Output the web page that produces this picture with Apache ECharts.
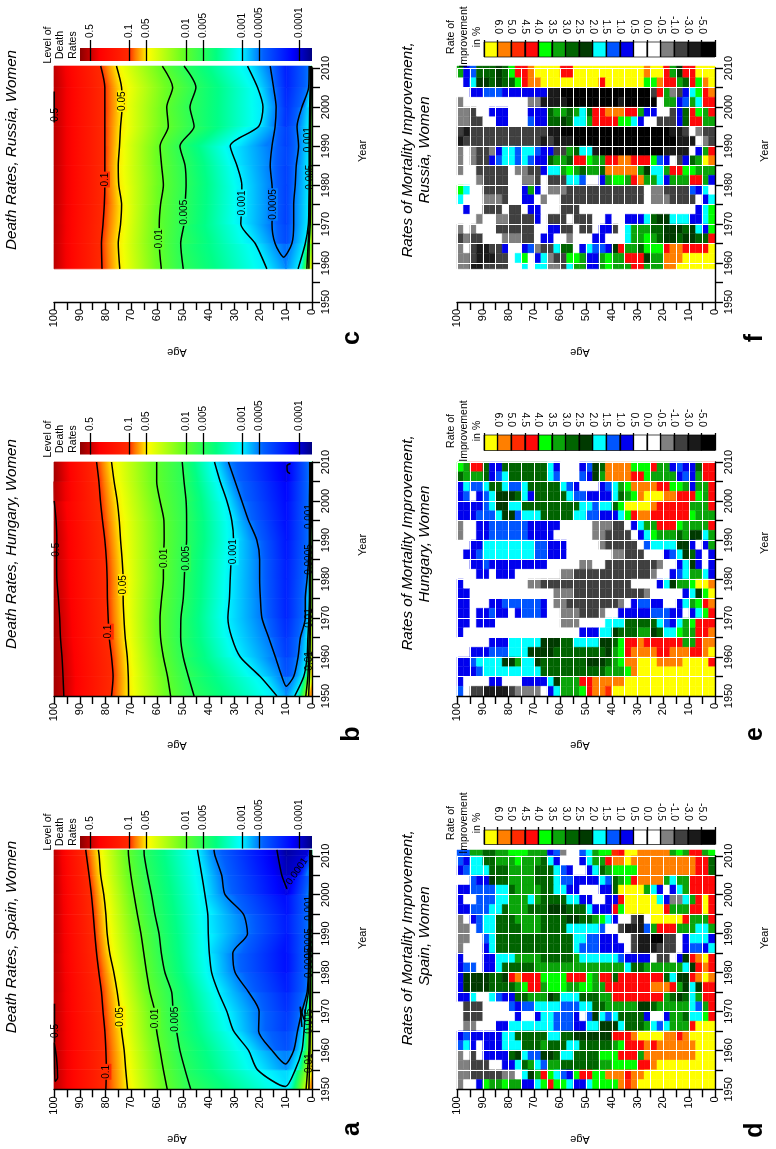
<!DOCTYPE html>
<html><head><meta charset="utf-8">
<script src="https://cdn.jsdelivr.net/npm/echarts@6/dist/echarts.min.js"></script>
<style>html,body{margin:0;padding:0;background:#fff}#c{width:776px;height:1149px}</style></head>
<body><div id="c"></div>
<script>
const FONT = '"Liberation Sans", Arial, sans-serif';
// ---------- death-rate contour data: age at which each contour lies, per row year ----------
const spainYears = [1950,1955,1960,1965,1970,1975,1980,1985,1990,1995,2000,2005,2010,2011.5];
const spainP1    = [79.9,79.7,79.9,80.3,81,81.6,82.6,83.5,84.2,84.8,85.5,86.4,87.4,87.7];
const spainP05   = [71.5,72.2,72.8,73.8,74.5,75.5,76.8,78.4,79.4,79.9,80.7,81.9,82.5,82.8];
const spainP01   = [56.1,57.6,58.9,60.2,60.9,62.8,64.1,65.2,66.3,67.7,69,70.2,71.1,71.2];
const spainP005  = [47,49.2,51.2,52.5,53.8,54.4,57,58.4,59.3,60.9,62.2,63.7,65,65.1];
const spainP001  = [null,21.1,24.6,30.4,33,36.3,38.9,39.8,40.2,40.4,41.5,42.7,44,44.4];
const spainP0005 = [null,null,15.5,20.7,20.5,24.6,29.8,30.7,25,26.6,33.7,35,37.6,38];
const spainP0001 = [null,null,null,null,null,null,null,null,null,null,null,11.7,13.2,13.6];
const spainL0001 = [null,null,null,null,null,null,null,null,null,null,null,7.1,1.9,1.3];
const spainL0005 = [null,null,7.1,5.6,3.9,1.9,1.4,1.2,1.1,1.1,1,.9,.9,.9];
const spainL001  = [null,6.5,3.9,3.1,2.6,1.4,1.2,1.1,1,1,.9,.8,.7,.7];
const spainNearA = [2.3,1.7,1.2,1,.9,.8,.7,.7,.6,.6,.5,.5,.4,.4];
const spainNearB = [1.2,1,.8,.7,.6,.5,.5,.4,.4,.3,.3,.3,.2,.2];
const spainMinLog = [-2.95,-3.15,-3.4,-3.55,-3.6,-3.7,-3.8,-3.85,-3.75,-3.75,-3.9,-4.05,-4.15,-4.15];
const spainAge0Log = [-1.1,-1.2,-1.35,-1.5,-1.6,-1.75,-1.9,-2.1,-2.2,-2.3,-2.45,-2.5,-2.55,-2.6];
const spainTips = {p001:[10.3,1950.7], p0005:[10.3,1956.5], p0001:[9.7,2001.5]};
const spainExtra = [
  [[99.8,1972],[99.8,1962]],
  [[99.9,1962],[99,1958],[98.6,1953],[99.6,1952],[99.8,1957],[99.9,1962]],
  [[3.9,1966],[4.6,1971.2],[3.1,1968],[2.5,1967.5]]
];
const spainLabels = [['0.5',99.7,1965],['0.1',79.7,1954.5],['0.05',74.2,1968.6],['0.01',60.6,1968.2],['0.005',53,1968],['0.0001',5.8,2006,55],['0.001',1.2,1996.5],['0.0005',1.2,1987.5],['0.0005',1,1982.5],['0.01',.9,1956.7],['0.005',.9,1967.5]];

const hungaryYears = [1950,1955,1960,1965,1970,1975,1980,1985,1990,1995,2000,2005,2010];
const hungaryP5    = [96.2,96.5,96.9,97.5,97.8,98.3,98.9,99,98.9,99.2,99.9,null,null];
const hungaryP1    = [77.7,77.1,77.7,78.6,79,79.3,79.4,79.7,80.3,81.2,82,82.6,83.5];
const hungaryP05   = [71.1,71.2,71.6,72.4,72.9,73.2,73.2,73.6,74.2,74.7,75.5,76.7,77.7];
const hungaryP01   = [54.8,56,57.6,58.7,58.9,58.3,57.6,57.6,57.3,57.4,58.9,60.2,60.2];
const hungaryP005  = [45.7,47.9,49.9,50.9,50.8,49.9,49.5,49.2,48.6,48.6,48.8,49.6,50.3];
const hungaryP001  = [13.6,20.1,27.8,31.1,32.6,32,31.7,31.3,30.4,31.1,33,35.6,37.8];
const hungaryP0005 = [null,11.7,14.2,16.8,19.4,20,20.3,20.3,21.4,24.6,27.2,29.8,32.4];
const hungaryL0005 = [null,7.1,5.4,4.5,2.6,2.6,1.9,1.3,1,1,1,.9,.9];
const hungaryL001  = [6.7,3.2,1.9,1.6,1.2,1,1,1,.9,.9,.8,.8,.7];
const hungaryNearA = [2.4,1.6,1.3,1.1,1,.9,.8,.7,.7,.6,.5,.5,.4];
const hungaryNearB = [1.3,1,.8,.7,.6,.5,.5,.4,.4,.3,.3,.3,.2];
const hungaryMinLog = [-3.2,-3.4,-3.55,-3.6,-3.7,-3.72,-3.72,-3.75,-3.8,-3.82,-3.85,-3.9,-4.02];
const hungaryAge0Log = [-1.1,-1.2,-1.35,-1.45,-1.5,-1.55,-1.65,-1.75,-1.85,-1.85,-2,-2.15,-2.3];
const hungaryTips = {p0005:[10,1952.5]};
const hungaryExtra = [[[8.3,2009.6],[9.7,2009],[9.5,2007.5],[8.5,2007]]];
const hungaryLabels = [['0.5',99,1987.5],['0.1',78.8,1966.5],['0.05',73.2,1978.5],['0.01',57.3,1985.3],['0.005',48.8,1985.3],['0.001',30.4,1987],['0.0005',1.2,1985],['0.001',1.2,1996],['0.01',.9,1970],['0.01',.9,1959]];

const russiaYears = [1958.5,1965,1970,1975,1980,1985,1990,1995,2000,2005,2010.5];
const russiaP1    = [81.4,81.6,81,80.5,80.3,80.3,80.3,80.3,80.3,80.3,81.9];
const russiaP05   = [74.5,75.1,74.2,73.8,74.9,75.1,74.6,74.2,73.6,73.8,75.8];
const russiaP01   = [58.4,59.2,59.2,58.7,57.6,58.3,58.9,55.7,56.3,54,58];
const russiaP005  = [49.9,50.9,49.6,49.2,48.8,49.2,51.2,45.7,47.3,45,49.6];
const russiaP001  = [17.5,22,27.6,27.2,27.2,29.1,31.7,20.7,19,21.1,25];
const russiaP0005 = [null,14.3,15.5,15.2,15.5,16.2,15.5,14.3,13.9,14.9,16.2];
const russiaL0005 = [null,7.8,7.1,7.1,6.5,6.1,5.2,5.8,3.9,1.3,1.1];
const russiaL001  = [5.4,2.6,1.4,1.2,1.1,1.1,1.1,1,.9,.7,.6];
const russiaNearA = [2,1.5,1.1,1,.9,.8,.8,.7,.6,.5,.4];
const russiaNearB = [1.2,1.1,.7,.6,.6,.5,.5,.5,.4,.3,.2];
const russiaMinLog = [-3.2,-3.45,-3.55,-3.55,-3.55,-3.55,-3.5,-3.6,-3.65,-3.7,-3.75];
const russiaAge0Log = [-1.5,-1.5,-1.55,-1.6,-1.6,-1.65,-1.75,-1.8,-1.75,-1.95,-2.15];
const russiaTips = {p0005:[11,1961.5]};
const russiaExtra = [[[99.9,2004],[99.9,1996]]];
const russiaLabels = [['0.5',99.7,1998],['0.1',80.3,1981.4],['0.05',73.6,2001.5],['0.01',59.2,1966.2],['0.005',49.5,1973],['0.001',27.2,1975.4],['0.0005',15.2,1975],['0.001',1.3,1991.6],['0.005',.8,1982]];

// ---------- improvement-rate grids: one letter per 2.5 years of age, age 100 on the left, newest row first ----------
const improveCodes = 'YORSLGDKCABWVghkX';
const improveColors = ['#ffff00','#ff7f00','#ff2a00','#ff0808','#00ff00','#0aa50a','#006400','#003a00','#00ffff','#0055ff','#0000ee','#ffffff','#ffffff','#808080','#404040','#1a1a1a','#000000'];
const improveLabels = ['6.0','5.0','4.5','4.0','3.5','3.0','2.5','2.0','1.5','1.0','0.5','0.0','-0.5','-1.0','-3.0','-5.0'];
const spainEdges = [1950,1952.5,1955,1957.5,1960,1962.5,1965,1967.5,1970,1972.5,1975,1977.5,1980,1982.5,1985,1987.5,1990,1992.5,1995,1997.5,2000,2002.5,2005,2007.5,2010,2011.5];
const hungaryEdges = [1950,1952.5,1955,1957.5,1960,1962.5,1965,1967.5,1970,1972.5,1975,1977.5,1980,1982.5,1985,1987.5,1990,1992.5,1995,1997.5,2000,2002.5,2005,2007.5,2010];
const russiaEdges = [1958.5,1960,1962.5,1965,1967.5,1970,1972.5,1975,1977.5,1980,1982.5,1985,1987.5,1990,1992.5,1995,1997.5,2000,2002.5,2005,2007.5,2010.5];
const spainImprove = [
'AAGGDDGGLLLGGGBAgWWACGLLRSYYOOOOOGLGSSGL',
'ABCCDDGGGLGGGDCBWWWBCGGSOOYOOOOOOOOOOSSD',
'BACCCDDDGGGGDDDCABWWBCDGLLLLOOOOOOOOOSSD',
'WWABBKDDGGGGDDDCAABBBBCADGLSOOOOGCGGSSSS',
'BBAAAACCDGGGGDDCCBBWWWBBDYYYYGCBWBCGSSSS',
'BWWAAACCGGGCGDDDDCCBBWWBBSYYYYYCBggCGSYS',
'BBAAACCDGGGDDDKKKDDDCBBBSLYYYYYYSGGGSSYS',
'gWBACCDDDGGGGDDDDKKDDGLCBWWhkWYYYYYSGGGS',
'ggWACCDDDDGGGDDDDCCCCCAWWhkkkAGSSSGGGCCG',
'ggWWACDDDDDDDDDDDDCCAABBBWWhkkXXhhWBCCCB',
'gWWWBCDDDDDDDDDDDDCAAABBBBWhkkkhhhWBAABC',
'BWWWBBCCCGGGGDDDDDGCCCCCCABBBBWhhWBKSOYS',
'BAAWBBCDDDDDGGGGGGGGGGGGGGCDDGGGGGGCKSOS',
'BKKKKDDKSOSSSLLLLSSSLGSSDSSSSSSSDCKKSOYO',
'BKKKKDDDDGLSSGLLLGGLLGGSSSSSSSOOOSGKCKSS',
'BBCWWCABBDDGGGKDCCCDDDGGSSSSSSSSGDKDCGSS',
'WhhhWWWWABAACCCCAAACCDDGGGGGKKDGGGGGCAGS',
'WhhhWWWWWBWWBCCAAABWAKCACDDDDBWWBGGDCCLS',
'WggWWWBBCCCCCCCAAABBCCKKKCDDDGCACGGGSYYY',
'BABBBBBCCDDDDDCCDDKKKKKKSSSOYYYYOOSOYYYY',
'ACBWBBBCCCDDDGDDDCCDDDDDGLSSSOSOOOOOOYYY',
'gWhWBBBBDKCAAKKDCCDDDDLLLSSSGOOOOOOOOYYY',
'gghhhWWBBCDGCAGGDDDDDDGGLLLLSSOYYYYYYYYY',
'gghhhhhggWCKGSLCABLSSLLOOOSOOYYYYYYYYYYY',
'gWWBLGGLGGBBCLSLLCBBCLLLLOROYYYYYYYYYYYY'];
const hungaryImprove = [
'LGSSDBBDDDDDDDCBWWWBAKDOOOOLLLSGGBABBDSS',
'DGGGDBACDDDDDDCAWWWABKGOOOOSSLGGGGBABGSS',
'BCAACDDCAACDDDDDCABWWWBACGLOOOOSSLLGBGGS',
'BAWBACKKKDCBDDDDDCAABBBBCDGLOYYYOOSSSLGS',
'BBBBACKKCCDDDDDDDDDCCACCDLYYYYOSSSSSGGGS',
'BBBAAACKKACCCDDDDDCCAABBBCLSOOSSSSSSLGGG',
'gWWBBAAAAAABBBBBWWWWWggghhWBCGGSSSLGGGGS',
'gWWBBAAAAAABBBBWWWWWWgghhhhWBCLGGGDGKKCG',
'WWBBCCCCCCCCAABBBWWWWWghhhhhWACCCCKKBWBG',
'WBBACCCCCCCCAABBBWWWWWWWgghhhWWWBACKDBWB',
'WWBBABBBBBBBBBWWWWWggWWhhhhhhhhgWWBCKBWB',
'WWWBBWBBBWWWWWWWgghhhhhhhhhhhhgWWBACGGCB',
'BWWWWWWWWWWgghhhhhhhhhhhhhhWWWWBCKGGLYYO',
'BBWWWWWWWWWWWWWggghhhhhhhhhhhgWWWWWBCKLY',
'BBWWWBBAAAAAABWgghhhhhhhhgWBAABBWWBCGLSO',
'BBWBBABBWBAAABWWggghhhgWWBBBBBAAABBWBCLS',
'BBWBBBWWWWWWWWWWgggWWWWCCCDDDDDCABCGLSSS',
'BWWWWWWWWWWWWWWWWWWBBBCCKDDDGGKDCCLGGSSO',
'WWWWWBBBCCCCCKKKDDCCCCKKDLSSOSSSSSSGGSOO',
'WWBBBAAACCCKKKKDDDDDDDDKGLSOOOOSSOOOSSOY',
'BBACCCCKKGCCKDDDDDDDKKKDGLOOYYYOOOOYYYYS',
'BBBACCCCCCCCCDDDDDDDDDDGGGLOYYYYYYYYYYYY',
'BWWWWBBWWWBBBBCKGGGSSOOOOOYYYYYYYYYYYYYY',
'AWhhkkkkhggggWBCGGGLSOORYYYYYYYYYYYYYYYY'];
const russiaImprove = [
'GBADDDKDLSSOYYYYSSYYYYYYYYYYYOYYSGKSSYYY',
'WBCKKDKDDLSOOYYYYYYYYYSYYYYYYLLOSSGDSLOY',
'WWBBAAABBBBBBBkkXXXXXXXXXXXXXXhSGghBCLSO',
'gWWWWWWWWWWggkkkkXXXXXXXXkXXXXXWGGBAGCSS',
'gghWWBBBWWWBBBDGGDGCDSSOOOSSGBBWWhBDSLGS',
'gghhWWBBWWWABBDDKDCCGSSSSLLCBWWhhhBDSSGG',
'hkhhhhhhhhhhhhkkXXXXXXXXXXXXXXXXXkkhWghh',
'khhhhhhhhhhhhkhkkkXXXXXXXXXXXXXXXXkkkWgh',
'gWghhgBCCACCABBhhGDCCkXXXXXXXXXXkkkkWBGS',
'gWghhBACCACABBDGGDSSLGGSSOOSSSLABWhBDGYO',
'gWWhhhhhWgghhBCCGLGDGGDOOOOOGKCCGSSLLGGG',
'WWWghhhhWWgghWhhhCCAWWBGLLGSOGGCBGGGSSGB',
'LCWWhhhhWWBGBWggghhhhhhhhhhhhWgghhhhABCW',
'CWWWggghWWBBWgWWhhhhhhhhhhhhhWggghhhhWBC',
'WBWWhhhWhhWBBWWWhhhWWWWWWWWWWWWWWWWWWBCL',
'WWWgWWgghhhhBWhhhWhhhWWBWWBBBCDKKCCCBBCL',
'gWgWWWhhhhhhWWBBhhWhhWBBhWCGGGDDKKKDKCBL',
'hghhWWWggghhWBBWWgWWWBBWWWCGGLGDKKDKKDDS',
'gWhkkhhBWWBAghhCDDWBCAABKSGGDLLLSOOSSSSY',
'gghkkkhhWCLWBCghhLLGBBGLGGSSSKGGOOOYYYYY',
'ggkkhhhhWWCWCCgghCGGBBGLGGGSSGGGOOYYYYYY'];

// ---------- colour bar of the death-rate panels ----------
const rateLevels = [0.5,0.1,0.05,0.01,0.005,0.001,0.0005,0.0001];
const rampLogs   = [-0.124,-0.48,-1.0,-1.1,-1.33,-1.95,-2.54,-2.96,-3.37,-3.9,-4.24];
const rampColors = ['#8b0000','#ff0000','#ff2a00','#ff7700','#ffff00','#66ff22','#00ff80','#00ffff','#0060ff','#0000ff','#000080'];

function rgb(h){return [1,3,5].map(i=>parseInt(h.substr(i,2),16));}
function rampColor(l){
  if(l>=rampLogs[0])return rampColors[0];
  for(let i=1;i<rampLogs.length;i++){
    if(l>=rampLogs[i]){
      const t=(rampLogs[i-1]-l)/(rampLogs[i-1]-rampLogs[i]),a=rgb(rampColors[i-1]),b=rgb(rampColors[i]);
      return 'rgb('+a.map((v,k)=>Math.round(v+(b[k]-v)*t)).join(',')+')';
    }
  }
  return rampColors[rampColors.length-1];
}

const ratePanels = [
 {g:0,years:spainYears,p5:null,p1:spainP1,p05:spainP05,p01:spainP01,p005:spainP005,p001:spainP001,p0005:spainP0005,p0001:spainP0001,l0001:spainL0001,l0005:spainL0005,l001:spainL001,nearA:spainNearA,nearB:spainNearB,minLog:spainMinLog,age0:spainAge0Log,top:-0.27,tips:spainTips,extra:spainExtra,labels:spainLabels},
 {g:1,years:hungaryYears,p5:hungaryP5,p1:hungaryP1,p05:hungaryP05,p01:hungaryP01,p005:hungaryP005,p001:hungaryP001,p0005:hungaryP0005,p0001:null,l0001:null,l0005:hungaryL0005,l001:hungaryL001,nearA:hungaryNearA,nearB:hungaryNearB,minLog:hungaryMinLog,age0:hungaryAge0Log,top:-0.2,tips:hungaryTips,extra:hungaryExtra,labels:hungaryLabels},
 {g:2,years:russiaYears,p5:null,p1:russiaP1,p05:russiaP05,p01:russiaP01,p005:russiaP005,p001:russiaP001,p0005:russiaP0005,p0001:null,l0001:null,l0005:russiaL0005,l001:russiaL001,nearA:russiaNearA,nearB:russiaNearB,minLog:russiaMinLog,age0:russiaAge0Log,top:-0.27,tips:russiaTips,extra:russiaExtra,labels:russiaLabels}
];
const improvePanels = [
 {g:3,edges:spainEdges,rows:spainImprove},
 {g:4,edges:hungaryEdges,rows:hungaryImprove},
 {g:5,edges:russiaEdges,rows:russiaImprove}
];

// layout: [axis left, 1950 y, 2010 y, bar left, tick top, bar top, bar bottom]
const layouts = [
 [54,1089.3,855.8,80,832,836,848.5],
 [54,696,462,80,433,442,454.5],
 [54,302,68,80,40,48,61],
 [457,1089.3,855.8,484,827,830,844.5],
 [457,696,462,484,433,435,450.5],
 [457,302,68,484,40,42,57]
];

const grid=[],xAxis=[],yAxis=[],series=[];
const tickStyle={lineStyle:{color:'#000',width:1.4}};
layouts.forEach((L,i)=>{
  const heat=i>=3;
  grid.push({left:L[0],top:L[2],width:258,height:L[1]-L[2]});
  xAxis.push({gridIndex:i,type:'value',inverse:true,min:0,max:100,interval:5,z:5,position:'bottom',
    axisLine:{onZero:false,lineStyle:{color:'#000',width:1.4}},
    axisTick:{length:8,...tickStyle},
    splitLine:{show:heat,lineStyle:{color:'#fff',width:1}},
    axisLabel:{rotate:90,margin:7,color:'#000',fontFamily:FONT,fontSize:11,formatter:v=>v%10===0?String(v):''}});
  yAxis.push({gridIndex:i,type:'value',min:1950,max:2010,interval:5,z:5,position:'right',
    axisLine:{onZero:false,lineStyle:{color:'#000',width:1.4}},
    axisTick:{length:8,...tickStyle},
    splitLine:{show:heat,lineStyle:{color:'#fff',width:1}},
    axisLabel:{rotate:90,margin:8,color:'#000',fontFamily:FONT,fontSize:11,formatter:v=>v%10===0?String(v):''}});
});
// legends use grids 6..11; the rate bar's axis runs over -log10(rate), high rates on the left
layouts.forEach((L,i)=>{
  const heat=i>=3, k=i+6, H=L[6]-L[4];
  grid.push({left:L[3],top:L[4],width:(heat?715-484:312-80),height:H});
  const logs=rateLevels.map(v=>-Math.log10(v));
  xAxis.push(heat?{gridIndex:k,type:'value',min:0,max:17,interval:1,position:'top',z:5,
      axisLine:{show:false,onZero:false},splitLine:{show:false},
      axisTick:{inside:true,length:H,lineStyle:{color:'#000',width:1.3}},
      axisLabel:{rotate:90,margin:6,color:'#000',fontFamily:FONT,fontSize:10.5,hideOverlap:false,formatter:v=>improveLabels[v-1]||''}}
    :{gridIndex:k,type:'value',min:0.124,max:4.23,position:'top',z:5,
      axisLine:{show:false,onZero:false},splitLine:{show:false},
      axisTick:{inside:true,length:H,customValues:logs,lineStyle:{color:'#000',width:1.3}},
      axisLabel:{rotate:-90,margin:2,color:'#000',fontFamily:FONT,fontSize:10,customValues:logs,hideOverlap:false,formatter:v=>String(+Math.pow(10,-v).toPrecision(1))}});
  yAxis.push({gridIndex:k,type:'value',min:0,max:H,show:false});
  const low=0,high=L[6]-L[5];
  if(heat){
    series.push({type:'custom',xAxisIndex:k,yAxisIndex:k,z:2,silent:true,
      data:improveColors.map((c,j)=>[j,j+1,low,high]),
      renderItem:(p,api)=>{
        const a=api.coord([api.value(0),api.value(3)]),b=api.coord([api.value(1),api.value(2)]);
        return {type:'rect',shape:{x:a[0],y:a[1],width:b[0]-a[0],height:b[1]-a[1]},
          style:{fill:improveColors[p.dataIndex],stroke:'#000',lineWidth:.7}};
      }});
  }else{
    series.push({type:'custom',xAxisIndex:k,yAxisIndex:k,z:2,silent:true,
      data:[[0.124,4.23,low,high]],
      renderItem:(p,api)=>{
        const a=api.coord([api.value(0),api.value(3)]),b=api.coord([api.value(1),api.value(2)]);
        const stops=rampLogs.map((l,j)=>({offset:(rampLogs[0]-l)/(rampLogs[0]-(-4.24)),color:rampColors[j]}));
        return {type:'rect',shape:{x:a[0],y:a[1],width:b[0]-a[0],height:b[1]-a[1]},
          style:{fill:new echarts.graphic.LinearGradient(0,0,1,0,stops)}};
      }});
  }
});

// ---------- death-rate fills & contours ----------
function knotsFor(p,r){
  const MINAGE=10, mv=p.minLog[r];
  const k=(arr,lv)=>(!arr||arr[r]==null)?[MINAGE,mv]:[arr[r],Math.log10(lv)];
  return [[100,p.top],
    (p.p5&&p.p5[r]!=null)?[p.p5[r],Math.log10(.5)]:[100,p.top],
    [p.p1[r],-1],[p.p05[r],Math.log10(.05)],[p.p01[r],-2],[p.p005[r],Math.log10(.005)],
    k(p.p001,.001),k(p.p0005,.0005),k(p.p0001,.0001),[MINAGE,mv],
    k(p.l0001,.0001),k(p.l0005,.0005),k(p.l001,.001),[0,p.age0[r]]];
}
function fillRender(p,api){
  const v=i=>api.value(i);
  const A=api.coord([v(0),v(4)]),B=api.coord([v(1),v(4)]),C=api.coord([v(2),v(5)]),D=api.coord([v(3),v(5)]);
  if(Math.abs(B[0]-A[0])<.01&&Math.abs(D[0]-C[0])<.01)return null;
  const mL=[(A[0]+C[0])/2,(A[1]+C[1])/2],mR=[(B[0]+D[0])/2,(B[1]+D[1])/2];
  let dx=(C[0]-A[0]+D[0]-B[0])/2,dy=(C[1]-A[1]+D[1]-B[1])/2;
  const n=Math.hypot(dx,dy)||1;dx/=n;dy/=n;
  const nx=-dy,ny=dx,s=(mR[0]-mL[0])*nx+(mR[1]-mL[1])*ny;
  if(Math.abs(s)<1){const c=rampColor((v(6)+v(7))/2);return {type:'polygon',shape:{points:[A,B,D,C]},style:{fill:c,stroke:c,lineWidth:.7}};}
  const end=[mL[0]+nx*s,mL[1]+ny*s];
  const stops=[];for(let t=0;t<=1.001;t+=.125)stops.push({offset:Math.min(t,1),color:rampColor(v(6)+(v(7)-v(6))*t)});
  const g=new echarts.graphic.LinearGradient(mL[0],mL[1],end[0],end[1],stops,true);
  return {type:'polygon',shape:{points:[A,B,D,C]},style:{fill:g,stroke:g,lineWidth:.7}};
}
function pathFrom(up,low,tip,years){
  const out=[];
  if(!up)return out;
  const u=[];for(let r=years.length-1;r>=0;r--)if(up[r]!=null)u.push([up[r],years[r]]);
  if(tip)u.push(tip);
  if(low){const l=[];for(let r=0;r<years.length;r++)if(low[r]!=null)l.push([low[r],years[r]]);
    if(tip){out.push(u.concat(l));}else{out.push(u);out.push(l);}}
  else out.push(u);
  return out;
}
ratePanels.forEach(p=>{
  const items=[];
  for(let r=0;r+1<p.years.length;r++){
    const a=knotsFor(p,r),b=knotsFor(p,r+1);
    for(let k=0;k+1<a.length;k++){
      items.push([a[k][0],a[k+1][0],b[k][0],b[k+1][0],p.years[r],p.years[r+1],(a[k][1]+b[k][1])/2,(a[k+1][1]+b[k+1][1])/2]);
    }
  }
  series.push({type:'custom',xAxisIndex:p.g,yAxisIndex:p.g,z:2,silent:true,data:items,renderItem:fillRender,dimensions:['a','b','c','d','y1','y2','l1','l2'],encode:{x:0,y:4}});
  const paths=[...[p.p1,p.p05,p.p01,p.p005].flatMap(a=>pathFrom(a,null,null,p.years)),
    ...pathFrom(p.p001,p.l001,p.tips.p001,p.years),
    ...pathFrom(p.p0005,p.l0005,p.tips.p0005,p.years),
    ...pathFrom(p.p0001,null,p.tips.p0001,p.years),
    ...pathFrom(p.p5,null,null,p.years),
    ...pathFrom(p.nearA,null,null,p.years),...pathFrom(p.nearB,null,null,p.years),
    ...p.extra];
  paths.forEach(d=>{
    series.push({type:'line',xAxisIndex:p.g,yAxisIndex:p.g,z:3,silent:true,clip:false,showSymbol:false,symbol:'none',smooth:.25,
      lineStyle:{color:'#000',width:1.5},data:d});
  });
  series.push({type:'custom',xAxisIndex:p.g,yAxisIndex:p.g,z:4,silent:true,data:p.labels.map(l=>[l[1],l[2],l[3]||90]),
    encode:{x:0,y:1},
    renderItem:(pp,api)=>{
      const L=p.labels[pp.dataIndex],c=api.coord([L[1],L[2]]);
      const plain=L[1]<3||L[1]>95||L[0]==='0.0001';
      return {type:'text',x:c[0],y:c[1],rotation:(L[3]||90)*Math.PI/180,
        style:{text:L[0],fill:'#000',font:'10px '+FONT,align:'center',verticalAlign:'middle',
          backgroundColor:plain?'transparent':rampColor(Math.log10(+L[0])),padding:[0,1]}};
    }});
});

// ---------- improvement grids ----------
improvePanels.forEach(p=>{
  const items=[];const n=p.rows.length;
  p.rows.forEach((row,ri)=>{
    const idx=n-1-ri;
    [...row].forEach((ch,c)=>{
      items.push([100-2.5*c,100-2.5*(c+1),p.edges[idx],p.edges[idx+1],improveCodes.indexOf(ch)]);
    });
  });
  series.push({type:'custom',xAxisIndex:p.g,yAxisIndex:p.g,z:2,silent:true,data:items,encode:{x:0,y:2},
    renderItem:(pp,api)=>{
      const a=api.coord([api.value(0),api.value(3)]),b=api.coord([api.value(1),api.value(2)]);
      const col=improveColors[api.value(4)];
      return {type:'rect',shape:{x:a[0],y:a[1],width:b[0]-a[0],height:b[1]-a[1]},style:{fill:col,stroke:col,lineWidth:.4}};
    }});
});

// ---------- rotated page text ----------
const TITLE='italic 15.2px';
const texts=[
 ['Death Rates, Spain, Women',12,937,TITLE],['Death Rates, Hungary, Women',12,544,TITLE],['Death Rates, Russia, Women',12,150,TITLE],
 ['Rates of Mortality Improvement,',408,938,TITLE],['Spain, Women',425,936,TITLE],
 ['Rates of Mortality Improvement,',408,543,TITLE],['Hungary, Women',425,544,TITLE],
 ['Rates of Mortality Improvement,',408,150,TITLE],['Russia, Women',425,150,TITLE],
 ['Year',363,938,'11px'],['Year',363,545,'11px'],['Year',363,151,'11px'],
 ['Year',765,938,'11px'],['Year',765,543,'11px'],['Year',765,151,'11px'],
 ['a',352,1129,'bold 25px'],['b',352,734,'bold 25px'],['c',352,338,'bold 25px'],
 ['d',755,1130,'bold 25px'],['e',755,734,'bold 25px'],['f',755,338,'bold 25px'],
 ['Level of',48,832,'10.5px'],['Death',60,832,'10.5px'],['Rates',73,832,'10.5px'],
 ['Level of',48,439,'10.5px'],['Death',60,439,'10.5px'],['Rates',73,439,'10.5px'],
 ['Level of',48,45,'10.5px'],['Death',60,45,'10.5px'],['Rates',73,45,'10.5px'],
 ['Rate of',451,823,'10.5px'],['Improvement',464,823,'10.5px'],['in %',477,823,'10.5px'],
 ['Rate of',451,431,'10.5px'],['Improvement',464,431,'10.5px'],['in %',477,431,'10.5px'],
 ['Rate of',451,37,'10.5px'],['Improvement',464,37,'10.5px'],['in %',477,37,'10.5px']
];
const elements=texts.map(t=>({type:'text',x:t[1],y:t[2],rotation:Math.PI/2,z:100,silent:true,
  style:{text:t[0],font:t[3]+' '+FONT,fill:'#000',align:'center',verticalAlign:'middle'}}));
[[177,1139],[177,745],[177,352],[580,1139],[580,745],[580,352]].forEach(q=>{
  elements.push({type:'text',x:q[0],y:q[1],rotation:Math.PI,z:100,silent:true,
    style:{text:'Age',font:'11px '+FONT,fill:'#000',align:'center',verticalAlign:'middle'}});
});

const chart=echarts.init(document.getElementById('c'),null,{renderer:'canvas'});
chart.setOption({animation:false,backgroundColor:'#fff',grid,xAxis,yAxis,series,graphic:{elements}});
</script></body></html>
